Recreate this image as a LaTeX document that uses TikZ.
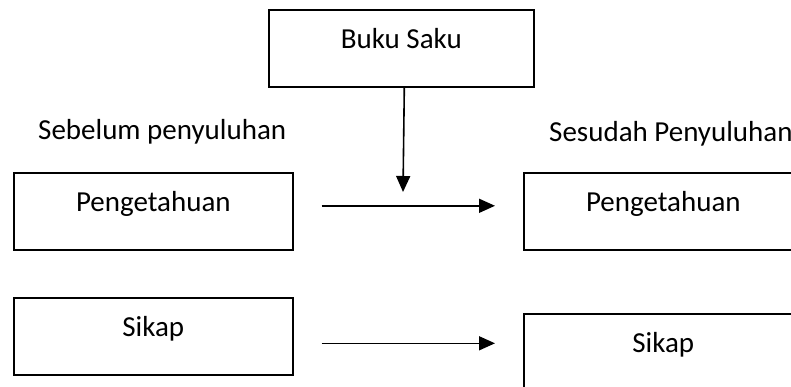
\documentclass[tikz,border=0pt]{standalone}
\usepackage{fontspec}
\setmainfont{Carlito}
\usetikzlibrary{positioning,arrows.meta}
\tikzset{
  kotak/.style={draw, line width=1.6pt, inner sep=0pt, minimum width=279pt,
    text height=39pt, text depth=38pt, anchor=north west},
  panah/.style={line width=1.6pt, -{Triangle[length=16pt,width=14pt]}},
  judul/.style={inner sep=0pt, anchor=base west}
}
\begin{document}
\begin{tikzpicture}[x=1pt,y=-1pt,font=\fontsize{29}{34}\selectfont]
	\clip (0,0) rectangle (791,387);
	\useasboundingbox (0,0) rectangle (791,387);
	%Boxes
	\node[kotak, minimum width=265pt] (buku) at (268,9) {Buku Saku};
	\node[kotak] (pl) at (13,172) {Pengetahuan};
	\node[kotak] (pr) at (523,172) {Pengetahuan};
	\node[kotak] (sl) at (13,297) {Sikap};
	\node[kotak] (sr) at (523,313) {Sikap};
	%Labels
	\node[judul] (sebelum) at (38,140) {Sebelum penyuluhan};
	\node[judul] (sesudah) at (549,142) {Sesudah Penyuluhan};
	%Arrows
	\coordinate (ujung) at (403,192);
	\coordinate (pa) at ([yshift=5.5pt]pl.east);
	\coordinate (sa) at ([yshift=-7pt]sl.east);
	\draw[panah] ([xshift=3pt]buku.south) -- (ujung);
	\draw[panah, shorten <=28pt, shorten >=28pt] (pa) -- (pr.west |- pa);
	\draw[panah, shorten <=28pt, shorten >=28pt] (sa) -- (sr.west |- sa);
\end{tikzpicture}
\end{document}
